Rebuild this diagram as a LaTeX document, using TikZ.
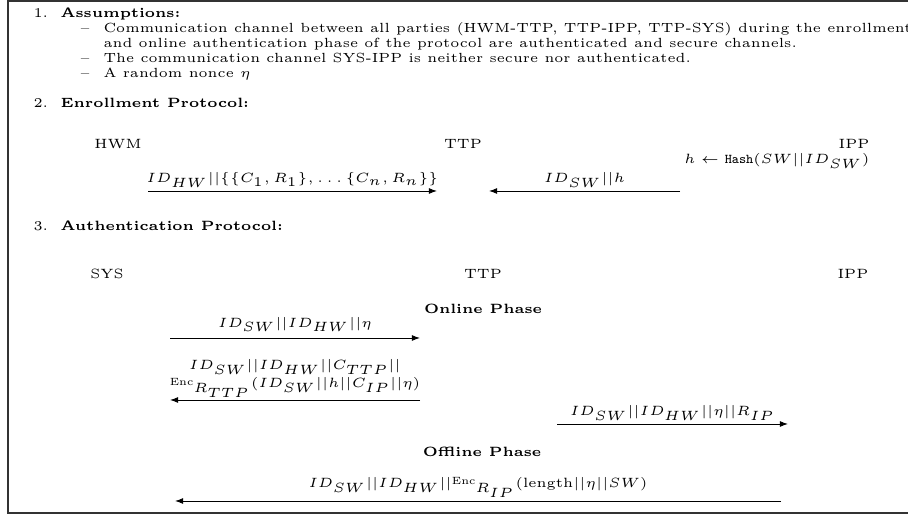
\documentclass[tikz,border=0pt]{standalone}
\usetikzlibrary{arrows.meta}
\tikzset{
  txt/.style={inner sep=0pt, font=\tiny},
  body/.style={inner sep=0pt, font=\fontsize{4.93pt}{6pt}\selectfont},
  head/.style={inner sep=0pt, font=\tiny\bfseries},
  lbl/.style={inner sep=0pt, font=\tiny, anchor=south, yshift=1.3pt},
  msg/.style={-{Latex[length=3pt,width=2.2pt]}, line width=0.35pt},
  frame/.style={line width=0.7pt, draw=black!80},
}
\newcommand{\encx}{\mbox{\raisebox{1.1pt}{\fontsize{3.9pt}{4pt}\selectfont Enc}}}
\begin{document}
\begin{tikzpicture}[x=0.3717pt,y=-0.3717pt]
\useasboundingbox (0,0) rectangle (908,516);
\draw[frame] (908,1) -- (8,1) -- (8,513) -- (908,513);
% 1. Assumptions
\node[txt,anchor=base west] (n1) at (33,18) {1.};
\node[head,anchor=base west] (h1) at (60,18) {Assumptions:};
\node[body,anchor=base west] (d1) at (80,33) {--};
\node[body,anchor=base west] (a1) at (103,33) {Communication channel between all parties (HWM-TTP, TTP-IPP, TTP-SYS) during the enrollment};
\node[body,anchor=base west] (a1b) at (103,48) {and online authentication phase of the protocol are authenticated and secure channels.};
\node[body,anchor=base west] (d2) at (80,63) {--};
\node[body,anchor=base west] (a2) at (103,63) {The communication channel SYS-IPP is neither secure nor authenticated.};
\node[body,anchor=base west] (d3) at (80,78) {--};
\node[body,anchor=base west] (a3) at (103,78) {A random nonce $\eta$};
% 2. Enrollment
\node[txt,anchor=base west] (n2) at (33,108) {2.};
\node[head,anchor=base west] (h2) at (60,108) {Enrollment Protocol:};
\node[txt,anchor=base] (hwm) at (118,149) {HWM};
\node[txt,anchor=base] (ttp1) at (463,149) {TTP};
\node[txt,anchor=base east] (ipp1) at (870,149) {IPP};
\node[txt,anchor=base east] (hash) at (870,164) {$h \leftarrow \mbox{\texttt{Hash}}(SW||ID_{SW})$};
\coordinate (e1s) at (148,191);
\coordinate (e1t) at (437,191);
\coordinate (e2s) at (680,191);
\coordinate (e2t) at (489,191);
\draw[msg] (e1s) -- node[lbl] (l1) {$ID_{HW}||\{\{C_1,R_1\},\ldots\{C_n,R_n\}\}$} (e1t);
\draw[msg] (e2s) -- node[lbl] (l2) {$ID_{SW}||h$} (e2t);
% 3. Authentication
\node[txt,anchor=base west] (n3) at (33,231) {3.};
\node[head,anchor=base west] (h3) at (60,231) {Authentication Protocol:};
\node[txt,anchor=base] (sys) at (107,279) {SYS};
\node[txt,anchor=base] (ttp2) at (483,279) {TTP};
\node[txt,anchor=base] (ipp2) at (853,279) {IPP};
\node[head,anchor=base] (on) at (483,314) {Online Phase};
\coordinate (m1s) at (170,338);
\coordinate (m1t) at (420,338);
\draw[msg] (m1s) -- node[lbl,yshift=0.8pt] (lm1) {$ID_{SW}||ID_{HW}||\eta$} (m1t);
\coordinate (m2s) at (420,400);
\coordinate (m2t) at (170,400);
\draw[msg] (m2s) -- (m2t);
\node[txt,anchor=base] (lm2a) at (295,370) {$ID_{SW}||ID_{HW}||C_{TTP}||$};
\node[txt,anchor=base] (lm2b) at (295,388) {$\encx_{R_{TTP}}(ID_{SW}||h||C_{IP}||\eta)$};
\coordinate (m3s) at (557,424);
\coordinate (m3t) at (788,424);
\draw[msg] (m3s) -- node[lbl] (lm3) {$ID_{SW}||ID_{HW}||\eta||R_{IP}$} (m3t);
\node[head,anchor=base] (off) at (482,457) {Offline Phase};
\coordinate (m4s) at (781,501);
\coordinate (m4t) at (175,501);
\draw[msg] (m4s) -- node[lbl] (lm4) {$ID_{SW}||ID_{HW}||\encx_{R_{IP}}(\mathrm{length}||\eta||SW)$} (m4t);
\end{tikzpicture}
\end{document}
